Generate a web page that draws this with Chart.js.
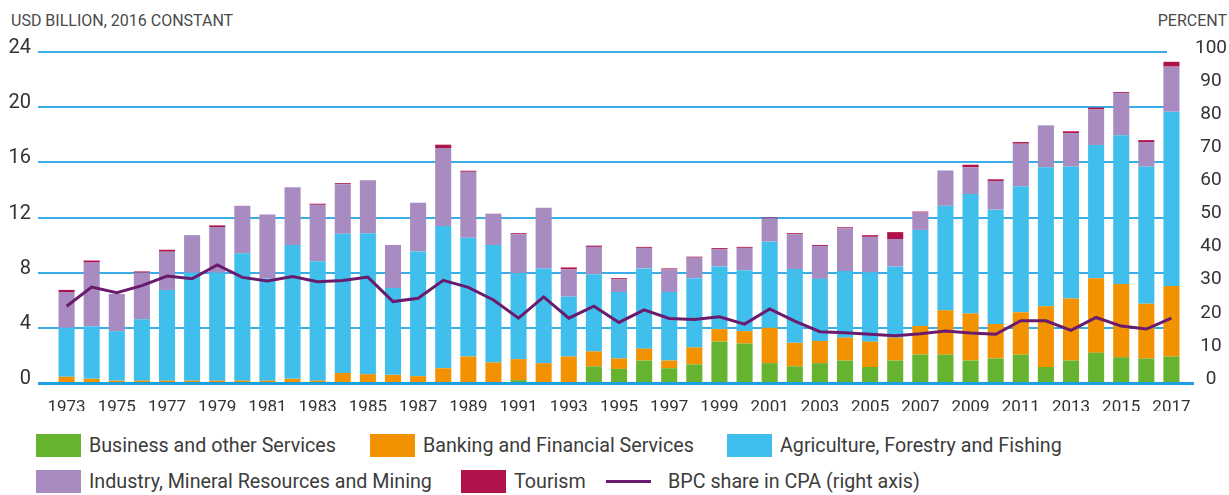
<!DOCTYPE html>
<html>
<head>
<meta charset="utf-8">
<script src="https://cdn.jsdelivr.net/npm/chart.js@4"></script>
<style>
  body { margin: 0; background: #fff; font-family: Roboto, sans-serif; color: #3c3c3b; }
  #wrap { position: relative; width: 1229px; height: 495px; overflow: hidden; }
  #box { position: absolute; left: 0; top: 0; width: 1229px; height: 418px; }
  .axt { position: absolute; top: 11px; font-size: 16px; color: #4a4a4a; white-space: nowrap; }
  .lg { position: absolute; display: flex; align-items: center; font-size: 19.7px; white-space: nowrap; color: #3c3c3b; }
  .lg .sw { width: 45px; height: 23px; margin-right: 8px; }
  .lg .ln { width: 45px; height: 3px; margin-right: 17px; }
</style>
</head>
<body>
<div id="wrap">
  <div class="axt" style="left:11px">USD BILLION, 2016 CONSTANT</div>
  <div class="axt" style="right:2px">PERCENT</div>
  <div id="box"><canvas id="myChart"></canvas></div>
  <div id="legend"></div>
</div>
<script>
const years = [
  "1973","1974","1975","1976","1977","1978","1979","1980","1981","1982",
  "1983","1984","1985","1986","1987","1988","1989","1990","1991","1992",
  "1993","1994","1995","1996","1997","1998","1999","2000","2001","2002",
  "2003","2004","2005","2006","2007","2008","2009","2010","2011","2012",
  "2013","2014","2015","2016","2017"
];

const business = [0,0,0,0,0,0,0,0,0,0,
  0,0,0,0,0,0,0.05,0.05,0.21,0.05,
  0.05,1.21,1.02,1.63,1.07,1.35,3.0,2.86,1.44,1.21,
  1.44,1.63,1.16,1.63,2.06,2.06,1.63,1.78,2.06,1.16,
  1.63,2.2,1.87,1.78,1.92];

const banking = [0.45,0.3,0.17,0.17,0.17,0.17,0.17,0.17,0.17,0.3,
  0.17,0.73,0.64,0.59,0.5,1.07,1.87,1.44,1.52,1.39,
  1.87,1.08,0.76,0.86,0.56,1.23,0.91,0.9,2.56,1.7,
  1.61,1.66,1.84,1.66,2.08,3.22,3.41,2.5,3.07,4.4,
  4.5,5.4,5.3,3.97,5.11];

const agriculture = [3.55,3.82,3.59,4.45,6.58,7.83,7.83,9.23,7.4,9.71,
  8.66,10.09,10.22,6.3,9.04,10.31,8.61,8.52,6.25,6.87,
  4.35,5.59,4.82,5.82,4.97,5.02,4.54,4.41,6.25,5.35,
  4.5,4.83,5.02,5.16,6.96,7.57,8.66,8.29,9.14,10.08,
  9.56,9.65,10.79,9.94,12.64];

const industry = [2.6,4.61,2.7,3.38,2.77,2.72,3.31,3.45,4.64,4.19,
  4.09,3.59,3.84,3.12,3.53,5.66,4.78,2.27,2.81,4.4,
  1.97,1.99,0.93,1.49,1.64,1.49,1.26,1.63,1.68,2.53,
  2.39,3.1,2.58,1.99,1.26,2.56,1.94,2.08,3.08,3.04,
  2.42,2.58,3.06,1.78,3.27];

const tourism = [0.15,0.15,0,0.09,0.14,0,0.12,0,0,0,
  0.08,0.08,0,0,0,0.24,0.08,0,0.07,0,
  0.14,0.09,0.07,0.07,0.07,0.07,0.07,0.07,0.07,0.07,
  0.07,0.07,0.12,0.5,0.07,0,0.19,0.12,0.12,0,
  0.14,0.14,0.07,0.14,0.35];

const bpcShare = [23.2,29.0,27.3,29.4,32.3,31.5,35.7,31.9,30.8,32.2,
  30.6,31.0,32.0,24.6,25.6,31.0,28.9,25.1,19.6,26.0,
  19.6,23.2,18.3,22.1,19.5,19.2,20.0,17.8,22.4,18.7,
  15.5,15.2,14.7,14.3,14.9,15.7,15.1,14.7,18.8,18.8,
  15.9,19.8,17.2,16.3,19.6];

const seriesNames = [
  "Business and other Services",
  "Banking and Financial Services",
  "Agriculture, Forestry and Fishing",
  "Industry, Mineral Resources and Mining",
  "Tourism",
  "BPC share in CPA (right axis)"
];
const seriesColors = ["#65b32e", "#f39200", "#41bfec", "#a78bc1", "#b0124b", "#6a1b6e"];

Chart.defaults.font.family = "Roboto, sans-serif";
Chart.defaults.color = "#3c3c3b";

// horizontal rules drawn behind the bars, wider than the bar area like the original
const rules = {
  id: 'rules',
  beforeDatasetsDraw(chart) {
    const c = chart.ctx, y = chart.scales.y;
    c.save();
    c.strokeStyle = '#3aace6';
    c.lineWidth = 2;
    for (let v = 4; v <= 24; v += 4) {
      const py = Math.round(y.getPixelForValue(v));
      c.beginPath();
      c.moveTo(38, py);
      c.lineTo(1167, py);
      c.stroke();
    }
    c.restore();
  },
  afterDatasetsDraw(chart) {
    const c = chart.ctx, y = chart.scales.y;
    const py = y.getPixelForValue(0);
    c.save();
    c.strokeStyle = '#1ca0e0';
    c.lineWidth = 3;
    c.beginPath();
    c.moveTo(38, py + 0.5);
    c.lineTo(1194, py + 0.5);
    c.stroke();
    c.restore();
  }
};

const barSets = [business, banking, agriculture, industry, tourism].map((d, i) => ({
  type: 'bar',
  label: seriesNames[i],
  data: d,
  backgroundColor: seriesColors[i],
  borderWidth: 0,
  barPercentage: 0.64,
  categoryPercentage: 1,
  yAxisID: 'y',
  order: 1
}));

new Chart(document.getElementById('myChart'), {
  data: {
    labels: years,
    datasets: [{
      type: 'line',
      label: seriesNames[5],
      data: bpcShare,
      borderColor: seriesColors[5],
      borderWidth: 3,
      pointRadius: 0,
      tension: 0,
      yAxisID: 'y1',
      order: 0
    }].concat(barSets)
  },
  options: {
    responsive: true,
    maintainAspectRatio: false,
    animation: false,
    layout: { padding: { top: 52, left: 0, right: 0, bottom: 0 } },
    plugins: { legend: { display: false }, tooltip: { enabled: false } },
    scales: {
      x: {
        stacked: true,
        grid: { display: false },
        border: { display: false },
        ticks: {
          autoSkip: false,
          maxRotation: 0,
          padding: 7,
          font: { size: 17 },
          color: '#333',
          callback: (v, i) => i % 2 === 0 ? years[i] : ''
        },
        afterFit: s => { s.height = 28; }
      },
      y: {
        stacked: true,
        min: 0,
        max: 24,
        grid: { display: false, drawTicks: false },
        border: { display: false },
        ticks: { stepSize: 4, padding: 23, labelOffset: -4, font: { size: 20 }, color: '#333' },
        afterFit: s => { s.width = 54; }
      },
      y1: {
        position: 'right',
        min: 0,
        max: 100,
        grid: { display: false, drawTicks: false },
        border: { display: false },
        ticks: { stepSize: 10, padding: 11, crossAlign: 'center', labelOffset: -4, font: { size: 19 }, color: '#333' },
        afterFit: s => { s.width = 45; }
      }
    }
  },
  plugins: [rules]
});

// legend in two rows like the original
const legendSpots = [[36, 434], [370, 434], [727, 434], [36, 470], [461, 470], [606, 470]];
const lg = document.getElementById('legend');
seriesNames.forEach((name, i) => {
  const el = document.createElement('div');
  el.className = 'lg';
  el.style.left = legendSpots[i][0] + 'px';
  el.style.top = legendSpots[i][1] + 'px';
  el.style.height = '23px';
  const sw = document.createElement('span');
  sw.className = i === 5 ? 'ln' : 'sw';
  sw.style.background = seriesColors[i];
  el.appendChild(sw);
  el.appendChild(document.createTextNode(name));
  lg.appendChild(el);
});
</script>
</body>
</html>
